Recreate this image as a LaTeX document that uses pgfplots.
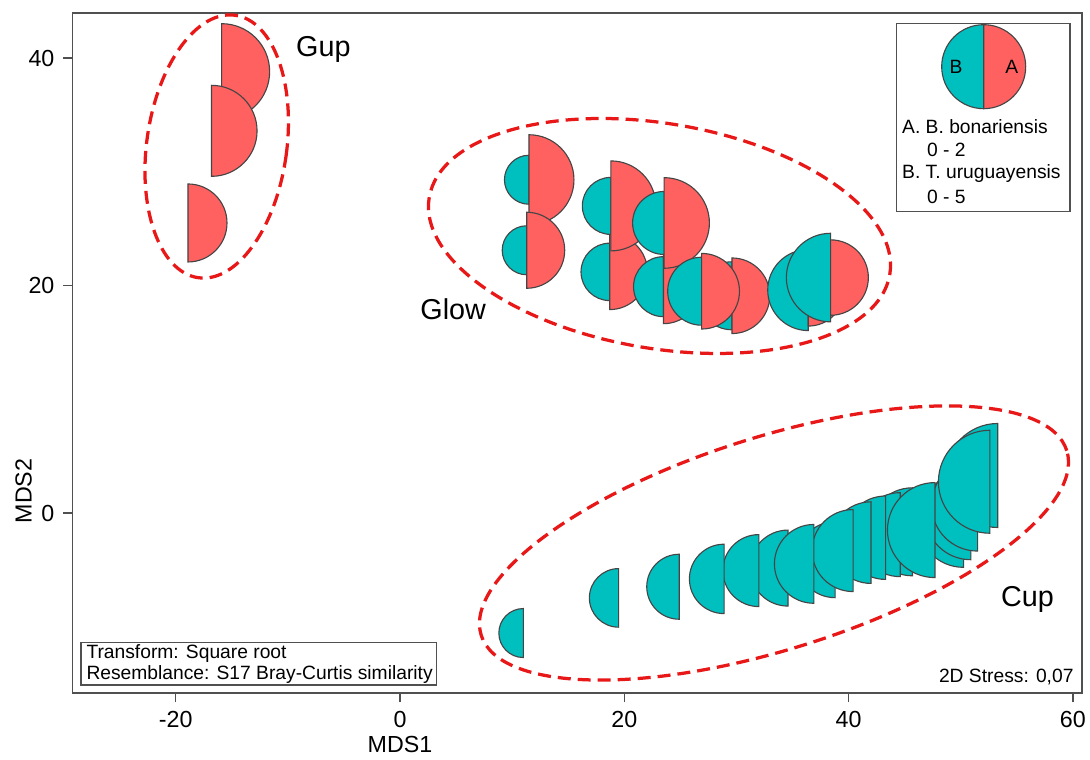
\documentclass[border=0pt]{standalone}
\usepackage{pgfplots}
\pgfplotsset{compat=1.18}
\usepackage{pgfplotstable}
\usepackage{fontspec}
\setmainfont{Liberation Sans}
\definecolor{redA}{HTML}{FF6060}
\definecolor{cyanB}{HTML}{00BFBF}
\definecolor{edgec}{HTML}{454545}
\definecolor{ellred}{HTML}{E81818}
\definecolor{axgray}{HTML}{505050}

\pgfdeclareplotmark{nothing}{}

% x = MDS1, y = MDS2, ra = size of A (B. bonariensis, red right half), rb = size of B (T. uruguayensis, cyan left half)
\pgfplotstableread{
x y ra rb
-15.9 38.8 48 0
-16.8 33.6 45.5 0
-18.9 25.5 39 0
}\gup

\pgfplotstableread{
x y ra rb
11.5 29.3 45 24.5
11.3 23.1 38 24.5
18.7 21.2 37.7 28.7
18.8 27.0 45 28.5
23.5 19.9 37 30
23.55 25.5 45.3 31.5
29.6 19.1 37.8 34
26.9 19.5 37.8 34
36.4 19.6 36 40.5
38.4 20.7 37.7 44.3
}\glow

\pgfplotstableread{
x y ra rb
34.6 -4.84 0 38
38.8 -4.1 0 38
45.7 -1.65 0 44
44.6 -1.9 0 42
43.3 -2.17 0 41.7
42.0 -2.6 0 40.8
40.4 -3.3 0 41
50.25 -0.73 0 46
50.9 -0.06 0 46
51.5 0.7 0 46
47.7 -1.5 0 47.5
53.3 3.3 0 52
52.6 2.75 0 51.5
36.9 -4.47 0 39.4
32.0 -5.06 0 36
28.9 -5.79 0 34.7
24.9 -6.48 0 32.5
19.5 -7.46 0 29.3
11.0 -10.55 0 24.5
}\cup

\pgfplotsset{
  splitbubble/.style={
    only marks, mark=nothing, scatter,
    visualization depends on={\thisrow{ra} \as \myra},
    visualization depends on={\thisrow{rb} \as \myrb},
    scatter/@pre marker code/.code={%
      \pgfmathsetlengthmacro\RA{0.4*\myra}%
      \pgfmathsetlengthmacro\RB{0.4*\myrb}%
      \ifdim\RB>0.01pt
        \filldraw[fill=cyanB, draw=edgec, line width=0.45pt] (0pt,-\RB) arc[start angle=270, end angle=90, radius=\RB] -- cycle;
      \fi
      \ifdim\RA>0.01pt
        \filldraw[fill=redA, draw=edgec, line width=0.45pt] (0pt,\RA) arc[start angle=90, end angle=-90, radius=\RA] -- cycle;
      \fi
    },
    scatter/@post marker code/.code={},
  }
}

\begin{document}
\begin{tikzpicture}
\useasboundingbox (0,0) rectangle (436pt,304pt);
\begin{axis}[
  scale only axis, width=403.72pt, height=272pt,
  at={(29.08pt,26.8pt)}, anchor=south west,
  xmin=-29.18, xmax=60.81, ymin=-15.82, ymax=43.96,
  xtick={-20,0,20,40,60}, xticklabels={-20,0,20,40,60},
  ytick={0,20,40}, yticklabels={0,20,40},
  tick pos=left, tick align=outside, major tick length=3.8pt,
  tick style={axgray, line width=0.5pt},
  axis line style={axgray, line width=0.6pt},
  ticklabel style={font=\fontsize{9.3}{11}\selectfont, text=black},
  xlabel={MDS1}, ylabel={MDS2},
  label style={font=\fontsize{9.3}{11}\selectfont},
  xlabel style={at={(axis description cs:0.3243,-0.0868)}, anchor=base},
  ylabel style={at={(axis description cs:-0.0406,0.297)}, anchor=base},
  clip=false,
]
\addplot[splitbubble] table {\gup};
\addplot[splitbubble] table {\glow};
\addplot[splitbubble] table {\cup};
\end{axis}

\begin{scope}[x=0.4pt, y=-0.4pt, yshift=304pt]
  % group ellipses
  \draw[ellred, line width=1.3pt, dash pattern=on 5.2pt off 2.8pt, rotate around={-8:(216.7,146.5)}]
    (216.7,146.5) ellipse [x radius=28pt, y radius=53pt];
  \draw[ellred, line width=1.3pt, dash pattern=on 5.2pt off 2.8pt, rotate around={-9.5:(659.5,236)}]
    (659.5,236) ellipse [x radius=93.4pt, y radius=45pt];
  \draw[ellred, line width=1.3pt, dash pattern=on 5.2pt off 2.8pt, rotate around={17.5:(774,543)}]
    (774,543) ellipse [x radius=122.8pt, y radius=42.5pt];
  % group labels
  \begin{scope}[every node/.style={inner sep=0pt, anchor=base west, font=\fontsize{11.5}{13}\selectfont}]
    \node at (295.7,56.7) {Gup};
    \node at (420,320) {Glow};
    \node at (1000.7,606.7) {Cup};
  \end{scope}
  % legend box
  \draw[axgray, line width=0.5pt, fill=white] (896.7,23.3) rectangle (1070,211.7);
  \filldraw[fill=cyanB, draw=edgec, line width=0.45pt] (983.7,24.7) arc[start angle=90, end angle=270, radius=16.8pt] -- cycle;
  \filldraw[fill=redA, draw=edgec, line width=0.45pt] (983.7,24.7) arc[start angle=90, end angle=-90, radius=16.8pt] -- cycle;
  \begin{scope}[every node/.style={inner sep=0pt, font=\fontsize{7.7}{9}\selectfont}]
    \node at (956,66.7) {B};
    \node at (1011.7,66.7) {A};
    \node[anchor=base west] at (901.7,133.3) {A. B. bonariensis};
    \node[anchor=base west] at (926.7,156.7) {0 - 2};
    \node[anchor=base west] at (901.7,178.3) {B. T. uruguayensis};
    \node[anchor=base west] at (926.7,203.3) {0 - 5};
    % transform box
    \draw[axgray, line width=0.5pt] (81,642.7) rectangle (436.7,685);
    \node[anchor=base west] at (86,658.3) {Transform: Square root};
    \node[anchor=base west] at (86,680) {Resemblance: S17 Bray-Curtis similarity};
    \node[anchor=base east] at (1074,682.7) {2D Stress: 0,07};
  \end{scope}
\end{scope}
\end{tikzpicture}
\end{document}
